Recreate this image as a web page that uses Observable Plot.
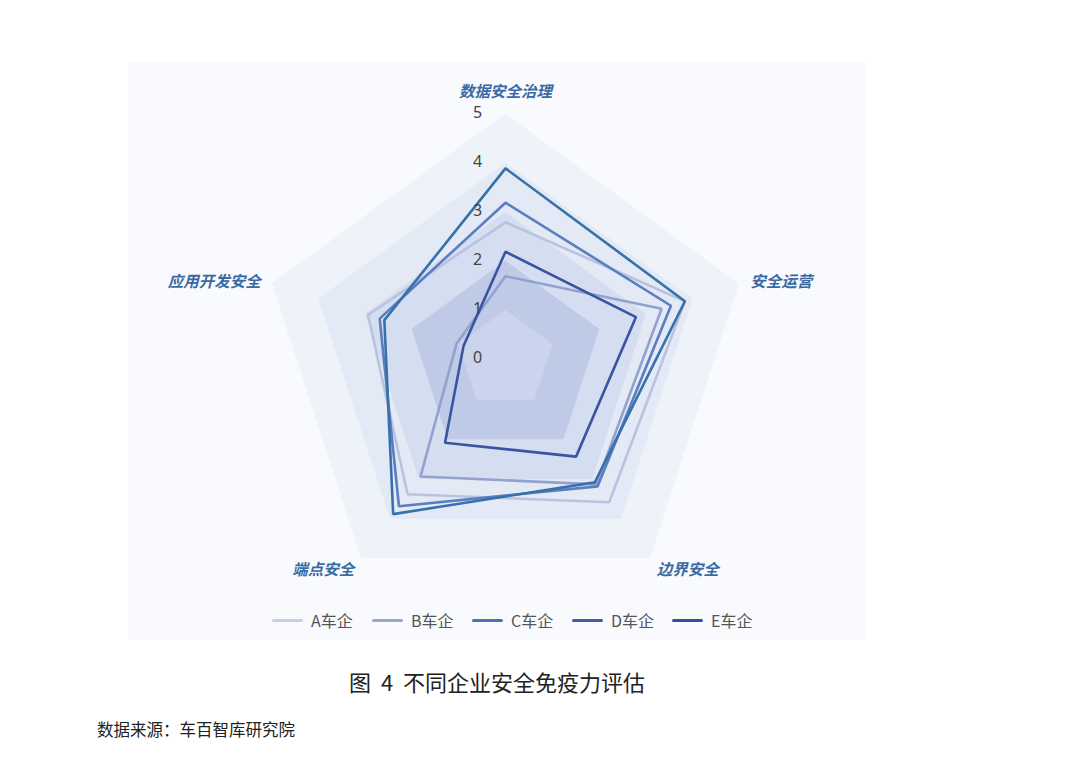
<!DOCTYPE html>
<html>
<head>
<meta charset="utf-8">
<script src="https://cdn.jsdelivr.net/npm/d3@7"></script>
<script src="https://cdn.jsdelivr.net/npm/@observablehq/plot@0.6"></script>
<style>
  body { margin: 0; background: #fff; font-family: "Noto Sans CJK SC", "Noto Sans", sans-serif; }
  #page { position: relative; width: 1077px; height: 772px; overflow: hidden; background: #fff; }
  #box { position: absolute; left: 128px; top: 62px; width: 738px; height: 578px; background: #f9fafd; }
  #chart { position: absolute; left: 0; top: 0; }
  #legend { position: absolute; left: 272px; top: 608px; display: flex; }
  .item { width: 100px; display: flex; align-items: center; height: 24px; }
  .sw { width: 31px; height: 3px; border-radius: 2px; margin-right: 8px; }
  .lt { font-size: 16px; color: #555; }
  #caption { position: absolute; left: 0; width: 994px; top: 665px; text-align: center; font-size: 22px; color: #222; white-space: pre; }
  #source { position: absolute; left: 97px; top: 717px; font-size: 16.5px; color: #222; }
</style>
</head>
<body>
<div id="page">
  <div id="box"></div>
  <div id="chart"></div>
  <div id="legend"></div>
  <div id="caption">图  4  不同企业安全免疫力评估</div>
  <div id="source">数据来源：车百智库研究院</div>
</div>
<script>
// ---- data ----
const axes = ["数据安全治理", "安全运营", "边界安全", "端点安全", "应用开发安全"];
const seriesNames = ["A车企", "B车企", "C车企", "D车企", "E车企"];
const valuesA = [2.8, 3.85, 3.6, 3.4, 2.95];
const valuesB = [1.7, 3.35, 3.15, 2.95, 1.05];
const valuesC = [3.2, 3.55, 3.2, 3.7, 2.7];
const valuesD = [3.9, 3.85, 3.1, 3.9, 2.6];
const valuesE = [2.2, 2.8, 2.45, 2.1, 0.9];
const seriesColors = ["#b9c3df", "#91a2cf", "#5a7ec0", "#3671aa", "#3a54a2"];
const legendColors = ["#c8cde0", "#9ba8cc", "#4e72b5", "#3f5fa3", "#34509a"];
const levels = [5, 4, 3, 2, 1];
const levelFills = ["#eef2f9", "#e3e9f5", "#d5def0", "#bfcbe6", "#cbd4ec"];
const tickLabels = [0, 1, 2, 3, 4, 5];
const maxValue = 5;

// ---- build ----
const allValues = [valuesA, valuesB, valuesC, valuesD, valuesE];
const n = axes.length;
const ang = i => i * 2 * Math.PI / n;
const px = (r, i) => r * Math.sin(ang(i));
const py = (r, i) => r * Math.cos(ang(i));

const seriesPts = seriesNames.flatMap((s, k) => axes.map((a, i) => ({series: s, i, v: allValues[k][i]})));
const axisObjs = axes.map((name, i) => ({name, i}));

const ringMarks = levels.map((l, j) =>
  Plot.line(axes.map((a, i) => ({i, r: l})), {
    x: d => px(d.r, d.i), y: d => py(d.r, d.i),
    curve: "linear-closed", fill: levelFills[j], stroke: levelFills[j], strokeWidth: 1
  })
);

const labelR = maxValue * 1.05;
const labelStyle = {fill: "#3a6aa3", fontSize: 15.5, fontWeight: "bold", fontStyle: "italic"};
const labelMark = (filterFn, anchor, dy) =>
  Plot.text(axisObjs.filter(filterFn), {
    x: d => px(labelR, d.i), y: d => py(labelR, d.i),
    text: "name", textAnchor: anchor, dy, ...labelStyle
  });

const unit = 49;          // px per value unit
const cx = 505, cy = 359; // pixel centre
const W = 1077, H = 600;

const chart = Plot.plot({
  width: W, height: H,
  margin: 0,
  x: {domain: [-cx / unit, (W - cx) / unit], axis: null},
  y: {domain: [-(H - cy) / unit, cy / unit], axis: null},
  color: {domain: seriesNames, range: seriesColors},
  style: {fontFamily: "'Noto Sans CJK SC', 'Noto Sans', sans-serif", background: "transparent", overflow: "visible"},
  marks: [
    ...ringMarks,
    Plot.line(seriesPts, {
      x: d => px(d.v, d.i), y: d => py(d.v, d.i),
      z: "series", stroke: "series", curve: "linear-closed",
      strokeWidth: 2.6, strokeLinejoin: "miter"
    }),
    Plot.text(tickLabels, {
      x: d => px(d, 0), y: d => py(d, 0), text: d => String(d),
      dx: -28, dy: -2, fill: "#444", fontSize: 16, fontFamily: "'Noto Sans', sans-serif"
    }),
    labelMark(d => d.i === 0, "middle", -10),
    labelMark(d => d.i !== 0 && px(1, d.i) > 0, "start", 2),
    labelMark(d => d.i !== 0 && px(1, d.i) < 0, "end", 2)
  ]
});
document.getElementById("chart").appendChild(chart);

// legend
const lg = document.getElementById("legend");
seriesNames.forEach((s, k) => {
  const it = document.createElement("div");
  it.className = "item";
  const sw = document.createElement("div");
  sw.className = "sw";
  sw.style.background = legendColors[k];
  const t = document.createElement("span");
  t.className = "lt";
  t.textContent = s;
  it.appendChild(sw); it.appendChild(t);
  lg.appendChild(it);
});
</script>
</body>
</html>
